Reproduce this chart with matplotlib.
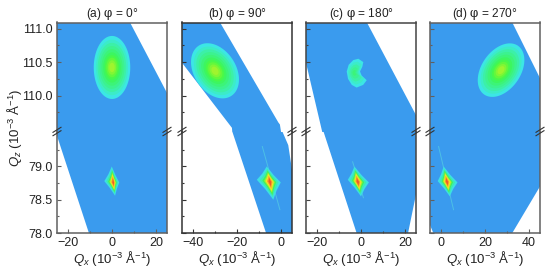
#!/usr/bin/env python3
import numpy as np
import matplotlib
matplotlib.use('Agg')
import matplotlib.pyplot as plt
from matplotlib.patches import Polygon

plt.rcParams['font.family'] = ['Liberation Sans', 'DejaVu Sans']
plt.rcParams['mathtext.fontset'] = 'custom'
plt.rcParams['mathtext.rm'] = 'Liberation Sans'
plt.rcParams['mathtext.it'] = 'Liberation Sans:italic'
plt.rcParams['mathtext.sf'] = 'DejaVu Serif'
plt.rcParams['mathtext.fallback'] = 'stix'

titles = ['(a) $\\mathsf{\\varphi}$ = 0°', '(b) $\\mathsf{\\varphi}$ = 90°',
          '(c) $\\mathsf{\\varphi}$ = 180°', '(d) $\\mathsf{\\varphi}$ = 270°']
xlims = [(-25, 25), (-45, 5), (-25, 25), (-5, 45)]
xmajor = [[-20, 0, 20], [-40, -20, 0], [-20, 0, 20], [0, 20, 40]]
xminor = [[-10, 10], [-30, -10], [-10, 10], [10, 30]]
ylim_top = (109.458, 111.09)
ylim_bot = (78.0, 79.518)
yt_top = [110.0, 110.5, 111.0]
yt_top_minor = [109.75, 110.25, 110.75]
yt_bot = [78.0, 78.5, 79.0]
yt_bot_minor = [78.25, 78.75, 79.25]

# measured area (blue) of every panel, upper and lower part of the broken axis
area_top = [
    [(-25, 109.4), (25, 109.4), (25, 110.04), (8.2, 111.09), (-25, 111.09)],
    [(-45, 111.09), (-27.7, 111.09), (-1.2, 109.6), (-0.5, 109.57), (0.3, 109.4), (-22, 109.4), (-22.3, 109.52), (-45, 110.49)],
    [(-25, 111.09), (2.7, 111.09), (25, 109.71), (25, 109.4), (-17.2, 109.4), (-25, 110.49)],
    [(-5, 111.09), (32.4, 111.09), (45, 110.26), (45, 109.4), (-5, 109.4)],
]
area_bot = [
    [(-25, 79.55), (25, 79.55), (25, 78), (-10.5, 78), (-25, 79.46)],
    [(-22.4, 79.55), (0.3, 79.55), (3.3, 79.32), (5, 78.95), (5, 78), (-6.8, 78)],
    [(-17.3, 79.55), (25, 79.55), (25, 78.58), (21.4, 78), (-2, 78)],
    [(-5, 79.55), (45, 79.55), (45, 78.7), (32.4, 78), (-3.5, 78), (-5, 78.12)],
]

# broad peak: cx, cy, half width, half height, tilt
broad_a = (0, 110.42, 8.3, 0.47, 0.0)
broad_b = (-30, 110.37, 10.9, 0.39, -0.13)
broad_d = (27.3, 110.38, 10.6, 0.37, 0.15)
kidney_c = [(-6.5, 110.36), (-5.6, 110.46), (-3.5, 110.53), (-1.2, 110.55), (1.05, 110.50),
            (0.6, 110.43), (-0.45, 110.36), (0.3, 110.30), (2.6, 110.23), (1, 110.16),
            (-2, 110.12), (-4.2, 110.16), (-5.9, 110.25)]
kidney_centre = (-3.2, 110.34)

# sharp peak: centre, left, right, bottom and top tip
sharp_a = [(0.6, 78.76), (-3.5, 78.78), (3.3, 78.76), (1.4, 78.56), (-0.1, 79.0)]
sharp_b = [(-5, 78.77), (-11, 78.80), (-0.1, 78.76), (-3.5, 78.5), (-6.5, 79.0)]
sharp_c = [(-1.5, 78.77), (-6, 78.80), (3.6, 78.76), (0, 78.55), (-3, 79.0)]
sharp_d = [(2.7, 78.77), (-1.5, 78.78), (7.5, 78.76), (4, 78.55), (1.2, 79.0)]
streaks = [None,
           [(-8.5, 79.3), (-0.5, 78.35)],
           [(-3.8, 79.07), (1.1, 78.53)],
           [(-1.1, 79.3), (5.7, 78.35)]]

blue = '#3a9bee'
broad_scale = [1.0, 0.88, 0.78, 0.68, 0.58, 0.48, 0.39, 0.31, 0.23, 0.15]
broad_color = ['#3ce6e6', '#3cecc8', '#3cf0a8', '#3cf290', '#3cf478', '#3cf660', '#48f84a', '#62f83c', '#82f634', '#a0f42e']
kidney_scale = [1.0, 0.8, 0.6, 0.4, 0.2]
kidney_color = ['#3ce6e6', '#3cecc8', '#3cf0a8', '#3cf290', '#3cf478']
# size of each colour band along the peak and across it
sharp_along = [1.0, 0.85, 0.74, 0.62, 0.52, 0.4, 0.27]
sharp_across = [1.0, 0.78, 0.58, 0.44, 0.34, 0.23, 0.12]
sharp_color = ['#3ce0e4', '#3cecb0', '#40f060', '#a0f030', '#f4e428', '#f8a028', '#f05a28']
spine_colors = ['#606060', '#333333', '#444444', '#606060']


def ellipse_points(cx, cy, rx, ry, tilt):
    t = np.linspace(0, 2 * np.pi, 90)
    return np.column_stack([rx * np.cos(t), ry * np.sin(t) + tilt * np.cos(t)]), (cx, cy)


def draw_nested(ax, pts, centre, scales, colors):
    for s, col in zip(scales, colors):
        ax.add_patch(Polygon(pts * s + centre, closed=True, fc=col, ec='none', zorder=2))


def draw_sharp(ax, peak):
    c, l, r, b, t = peak
    c = np.array(c)
    for al, ac, col in zip(sharp_along, sharp_across, sharp_color):
        tips = [(np.array(t) - c) * al, (np.array(r) - c) * ac,
                (np.array(b) - c) * al, (np.array(l) - c) * ac]
        pts = []
        for k in range(4):
            pts.append(tips[k])
            pts.append((tips[k] + tips[(k + 1) % 4]) * 0.47)
        ax.add_patch(Polygon(np.array(pts) + c, closed=True, fc=col, ec='none', zorder=2))


def style(ax, i, xlim, ylim, yt, ytm):
    c = spine_colors[i]
    ax.set_xlim(xlim)
    ax.set_ylim(ylim)
    ax.set_yticks(yt)
    ax.set_yticks(ytm, minor=True)
    ax.tick_params(axis='y', which='major', direction='in', length=3.2, width=0.8, color=c,
                   labelsize=9, labelcolor='#222222', pad=3, labelleft=(i == 0))
    ax.tick_params(axis='y', which='minor', direction='in', length=1.6, width=0.8, color=c)
    ax.set_yticklabels(['%.1f' % v for v in yt])
    for s in ax.spines.values():
        s.set_color(c)
        s.set_linewidth(1.1)
        s.set_zorder(5)


fig = plt.figure(figsize=(5.5, 2.72), dpi=100)
W, H = 550.0, 272.0
lefts = [57, 182, 306, 430]
wid = 110
top_px, mid_px, bot_px = 22.5, 132, 233
mark_px = 131.5
peaks_top = [broad_a, broad_b, None, broad_d]
peaks_bot = [sharp_a, sharp_b, sharp_c, sharp_d]

for i in range(4):
    x0 = lefts[i] / W
    ax1 = fig.add_axes([x0, 1 - mid_px / H, wid / W, (mid_px - top_px) / H])
    ax2 = fig.add_axes([x0, 1 - bot_px / H, wid / W, (bot_px - mid_px) / H])
    style(ax1, i, xlims[i], ylim_top, yt_top, yt_top_minor)
    style(ax2, i, xlims[i], ylim_bot, yt_bot, yt_bot_minor)

    ax1.add_patch(Polygon(area_top[i], closed=True, fc=blue, ec='none', zorder=1))
    ax2.add_patch(Polygon(area_bot[i], closed=True, fc=blue, ec='none', zorder=1))

    if peaks_top[i] is None:
        draw_nested(ax1, np.array(kidney_c) - kidney_centre, kidney_centre, kidney_scale, kidney_color)
    else:
        pts, c = ellipse_points(*peaks_top[i])
        draw_nested(ax1, pts, c, broad_scale, broad_color)

    if streaks[i] is not None:
        sx, sy = zip(*streaks[i])
        ax2.plot(sx, sy, color='#4cc0e6', lw=0.7, zorder=1.5)
    draw_sharp(ax2, peaks_bot[i])

    ax1.spines['bottom'].set_visible(False)
    ax2.spines['top'].set_visible(False)
    ax1.set_xticks([])
    ax2.set_xticks(xmajor[i])
    ax2.set_xticks(xminor[i], minor=True)
    ax2.tick_params(axis='x', which='major', direction='in', length=3.2, width=0.8, color=spine_colors[i],
                    labelsize=9, labelcolor='#222222', pad=3)
    ax2.tick_params(axis='x', which='minor', direction='in', length=1.6, width=0.8, color=spine_colors[i])
    ax2.set_xticklabels([str(v).replace('-', '\u2212') for v in xmajor[i]])
    ax2.set_xlabel('$\\mathit{Q}_{\\mathit{x}}$ (10$^{-3}$ Å$^{-1}$)', fontsize=9.5, color='#222222', labelpad=0)
    ax1.set_title(titles[i], fontsize=8.6, color='#222222', pad=4)

    # break marks on both edges
    for xp in (lefts[i], lefts[i] + wid):
        for dy in (-1.7, 1.7):
            fig.add_artist(plt.Line2D([(xp - 4) / W, (xp + 4) / W],
                                      [1 - (mark_px + dy + 2.5) / H, 1 - (mark_px + dy - 2.5) / H],
                                      color='#333333', lw=0.8))

fig.text(14 / W, 1 - 128 / H, '$\\mathit{Q}_{\\mathit{z}}$ (10$^{-3}$ Å$^{-1}$)', rotation=90,
         fontsize=9.5, color='#222222', ha='center', va='center')

fig.savefig('out.png', dpi=100)
